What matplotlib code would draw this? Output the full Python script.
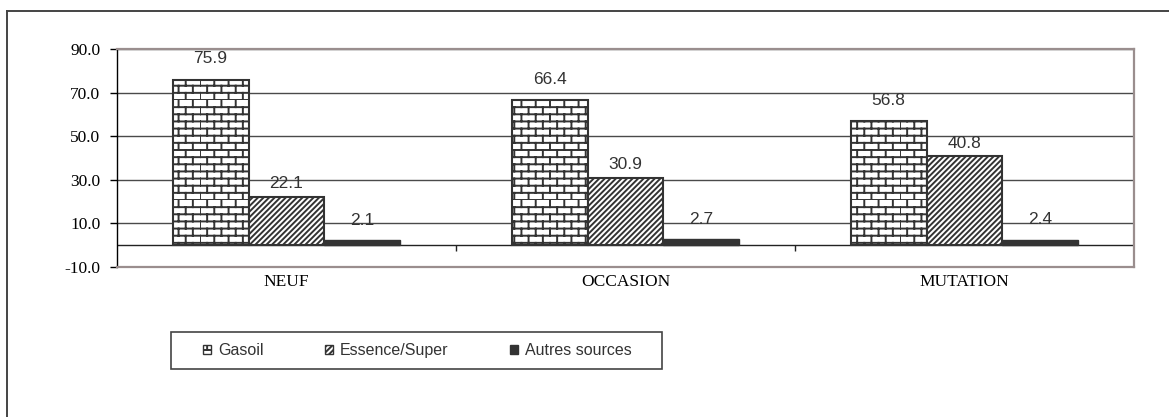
import warnings
import numpy as np
import matplotlib
matplotlib.use('Agg')
import matplotlib.pyplot as plt
import matplotlib.hatch as mhatch
from matplotlib.path import Path
from matplotlib.lines import Line2D
from matplotlib.patches import Rectangle

warnings.filterwarnings('ignore')

categories = ['NEUF', 'OCCASION', 'MUTATION']
series_names = ['Gasoil', 'Essence/Super', 'Autres sources']
gasoil = [75.9, 66.4, 56.8]
essence = [22.1, 30.9, 40.8]
autres = [2.1, 2.7, 2.4]
y_ticks = [-10, 10, 30, 50, 70, 90]


# motif "brique" pour le gasoil (pas dispo en standard dans matplotlib)
class BrickHatch(mhatch.HatchPatternBase):
    def __init__(self, hatch, density):
        n = hatch.count('b')
        self.rows = 14 * n
        self.cols = 7 * n
        self.num_vertices = 2 * self.rows * (1 + self.cols) if n else 0

    def set_vertices_and_codes(self, vertices, codes):
        k = 0
        for i in range(self.rows):
            y0 = i / self.rows
            y1 = (i + 1) / self.rows
            vertices[k] = (0, y0)
            vertices[k + 1] = (1, y0)
            k += 2
            off = 0 if i % 2 == 0 else 0.5 / self.cols
            for j in range(self.cols):
                x = j / self.cols + off
                vertices[k] = (x, y0)
                vertices[k + 1] = (x, y1)
                k += 2
        codes[0::2] = Path.MOVETO
        codes[1::2] = Path.LINETO


mhatch._hatch_types.append(BrickHatch)

plt.rcParams['axes.unicode_minus'] = False
plt.rcParams['hatch.linewidth'] = 1.4

serif = 'Liberation Serif'
sans = 'Liberation Sans'
dark = '#333333'

fig = plt.figure(figsize=(11.69, 4.17), dpi=100)
ax = fig.add_axes([117 / 1169, 1 - 266.7 / 417, (1134 - 117) / 1169, (266.7 - 49) / 417])

x = np.arange(len(categories))
w = 0.224

b1 = ax.bar(x - w, gasoil, w, facecolor='white', edgecolor=dark, hatch='b',
            linewidth=1.5, zorder=3, label=series_names[0])
b2 = ax.bar(x, essence, w, facecolor='white', edgecolor=dark, hatch='//////',
            linewidth=1.5, zorder=3, label=series_names[1])
b3 = ax.bar(x + w, autres, w, facecolor=dark, edgecolor=dark,
            linewidth=1.0, zorder=3, label=series_names[2])

# decalage des etiquettes (en points) par serie, comme sur l'original
for bars, vals, off in [(b1, gasoil, 12), (b2, essence, 6), (b3, autres, 11)]:
    for rect, v in zip(bars, vals):
        ax.annotate(f'{v:.1f}', (rect.get_x() + rect.get_width() / 2, v),
                    xytext=(0, off), textcoords='offset points',
                    ha='center', va='baseline', fontsize=12.5, family=sans,
                    color=dark, zorder=4)

ax.set_ylim(-10, 90)
ax.set_xlim(-0.5, 2.5)
ax.set_yticks(y_ticks)
ax.set_yticklabels([f'{t:.1f}' for t in y_ticks], family=serif, fontsize=12.5)
ax.set_xticks(x)
ax.set_xticklabels(categories, family=serif, fontsize=12.5)
ax.tick_params(axis='x', length=0, pad=5)
ax.tick_params(axis='y', length=5, width=1, pad=7, color='black')

for t in y_ticks[1:]:
    ax.axhline(t, color='#4a4a4a', linewidth=1.0, zorder=1)
ax.axhline(0, color='#222222', linewidth=1.0, zorder=2)
ax.vlines([0.5, 1.5], -2.8, 0, color='#222222', linewidth=1.0, zorder=2)

for side in ['top', 'right', 'bottom']:
    ax.spines[side].set_color('#9a8e8e')
    ax.spines[side].set_linewidth(1.6)
ax.spines['left'].set_color('black')
ax.spines['left'].set_linewidth(1.0)

# legende sans cadre + cadre dessine a part
leg = fig.legend(handles=[b1, b2, b3], loc='center', ncol=3, mode='expand',
                 bbox_to_anchor=(203 / 1169, 1 - 368 / 417, (632 - 203) / 1169, 35 / 417),
                 borderaxespad=0, frameon=False, handlelength=0.5, handleheight=0.5,
                 handletextpad=0.45, borderpad=0,
                 prop={'family': sans, 'size': 11.5})
for txt in leg.get_texts():
    txt.set_color(dark)
for h in leg.legend_handles:
    h.set_linewidth(1.0)
fig.add_artist(Rectangle((171 / 1169, 1 - 369 / 417), (662 - 171) / 1169, 37 / 417,
                         transform=fig.transFigure, fill=False,
                         edgecolor='#444444', linewidth=1.2))

# cadre exterieur
fig.add_artist(Line2D([7 / 1169, 7 / 1169], [0, 1 - 11 / 417], transform=fig.transFigure,
                      color='#444444', linewidth=1.4))
fig.add_artist(Line2D([7 / 1169, 1], [1 - 11 / 417, 1 - 11 / 417], transform=fig.transFigure,
                      color='#444444', linewidth=1.4))

fig.savefig('out.png', dpi=100)
